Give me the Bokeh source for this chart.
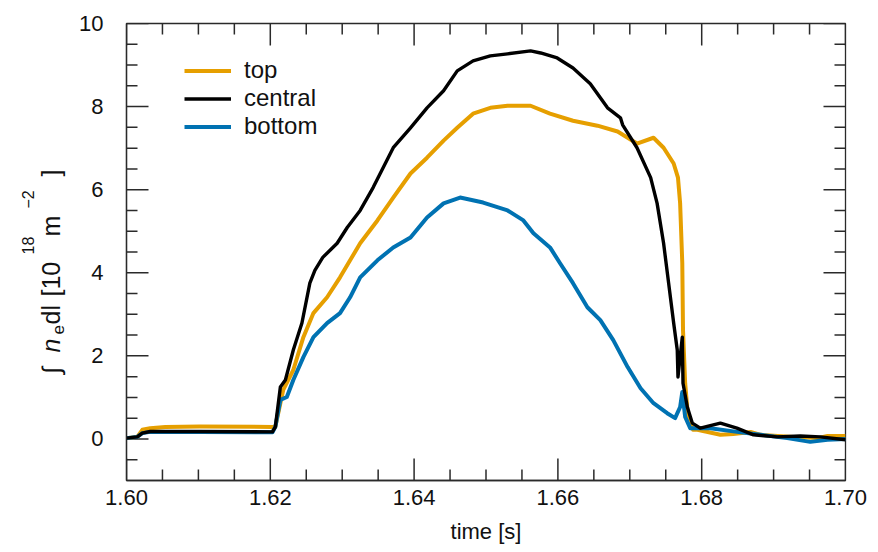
import math
from bokeh.plotting import figure
from bokeh.layouts import row
from bokeh.models import (Range1d, LinearAxis, SingleIntervalTicker, PrintfTickFormatter,
                          Legend, LegendItem, ColumnDataSource)
from bokeh.core.properties import value
from bokeh.embed import file_html
from bokeh.resources import INLINE

# ---- data ----
central_t = [1.6000, 1.6015, 1.6022, 1.6033, 1.6102, 1.6203, 1.6207, 1.6214, 1.6221, 1.6232,
             1.6244, 1.6255, 1.6262, 1.6273, 1.6293, 1.6307, 1.6325, 1.6343, 1.6371, 1.6395,
             1.6418, 1.6441, 1.6460, 1.6482, 1.6506, 1.6530, 1.6562, 1.6576, 1.6599, 1.6621,
             1.6645, 1.6669, 1.6687, 1.6690, 1.6710, 1.6729, 1.6738, 1.6747, 1.6754, 1.6761,
             1.6766, 1.6767, 1.6773, 1.6774, 1.6780, 1.6787, 1.6798, 1.6826, 1.6849, 1.6872,
             1.6905, 1.6937, 1.6965, 1.7000]
central_v = [0.02, 0.05, 0.14, 0.18, 0.18, 0.17, 0.29, 1.25, 1.42, 2.14,
             2.79, 3.75, 4.06, 4.37, 4.71, 5.09, 5.50, 6.05, 7.01, 7.49,
             7.97, 8.38, 8.86, 9.10, 9.22, 9.27, 9.34, 9.29, 9.17, 8.93,
             8.55, 7.97, 7.73, 7.56, 7.01, 6.29, 5.67, 4.71, 3.75, 2.79,
             2.14, 1.49, 2.45, 1.34, 0.77, 0.38, 0.26, 0.38, 0.26, 0.10,
             0.05, 0.07, 0.05, -0.02]

top_t = [1.6000, 1.6015, 1.6022, 1.6033, 1.6054, 1.6102, 1.6203, 1.6207, 1.6218, 1.6232,
         1.6246, 1.6260, 1.6279, 1.6297, 1.6311, 1.6325, 1.6349, 1.6371, 1.6395, 1.6418,
         1.6441, 1.6460, 1.6482, 1.6506, 1.6530, 1.6562, 1.6589, 1.6621, 1.6655, 1.6683,
         1.6710, 1.6733, 1.6747, 1.6761, 1.6767, 1.6770, 1.6773, 1.6774, 1.6777, 1.6781,
         1.6788, 1.6794, 1.6826, 1.6844, 1.6868, 1.6882, 1.6928, 1.6961, 1.6975, 1.7000]
top_v = [0.02, 0.05, 0.22, 0.26, 0.29, 0.30, 0.29, 0.29, 1.18, 1.66,
         2.45, 3.03, 3.41, 3.89, 4.30, 4.71, 5.26, 5.81, 6.39, 6.77,
         7.18, 7.49, 7.83, 7.97, 8.02, 8.02, 7.83, 7.66, 7.54, 7.40,
         7.11, 7.25, 7.01, 6.63, 6.29, 5.67, 4.23, 2.62, 1.34, 0.53,
         0.22, 0.22, 0.10, 0.12, 0.17, 0.10, 0.05, 0.02, 0.07, 0.07]

bottom_t = [1.6000, 1.6015, 1.6022, 1.6033, 1.6102, 1.6203, 1.6207, 1.6214, 1.6223, 1.6232,
            1.6246, 1.6260, 1.6279, 1.6297, 1.6311, 1.6325, 1.6349, 1.6371, 1.6395, 1.6418,
            1.6441, 1.6464, 1.6496, 1.6530, 1.6552, 1.6566, 1.6589, 1.6603, 1.6621, 1.6641,
            1.6659, 1.6677, 1.6697, 1.6715, 1.6733, 1.6752, 1.6763, 1.6770, 1.6773, 1.6777,
            1.6784, 1.6812, 1.6849, 1.6882, 1.6919, 1.6951, 1.6975, 1.7000]
bottom_v = [0.02, 0.05, 0.14, 0.17, 0.17, 0.16, 0.29, 0.94, 1.01, 1.42,
            1.97, 2.45, 2.79, 3.03, 3.41, 3.89, 4.30, 4.61, 4.85, 5.33,
            5.67, 5.81, 5.69, 5.50, 5.26, 4.95, 4.61, 4.23, 3.75, 3.17,
            2.86, 2.38, 1.73, 1.22, 0.86, 0.62, 0.50, 0.77, 1.13, 0.53,
            0.26, 0.26, 0.17, 0.10, 0.02, -0.07, -0.02, 0.00]

series_names = ["top", "central", "bottom"]
series_colors = ["#E69F00", "#000000", "#0072B2"]

# tick positions
x_major = [1.60, 1.62, 1.64, 1.66, 1.68, 1.70]
x_minor = [1.605, 1.610, 1.615, 1.625, 1.630, 1.635, 1.645, 1.650, 1.655,
           1.665, 1.670, 1.675, 1.685, 1.690, 1.695]
y_major = [0, 2, 4, 6, 8, 10]
y_minor = [-0.5, 0.5, 1.0, 1.5, 2.5, 3.0, 3.5, 4.5, 5.0, 5.5, 6.5, 7.0, 7.5, 8.5, 9.0, 9.5]
X_MIN, X_MAX, Y_MIN, Y_MAX = 1.60, 1.70, -1.0, 10.0

FONT = "Liberation Sans"
INK = "#111111"
AX = "#2a2a2a"

# layout sizes (px)
TOTAL_W, TOTAL_H = 878, 552
LW = 76                      # width of the y-title panel
BL, BR, BT, BB = 50, 33, 23, 72
PW = TOTAL_W - LW
FRAME_W = PW - BL - BR
FRAME_H = TOTAL_H - BT - BB

# ---------- main plot ----------
p = figure(width=PW, height=TOTAL_H, output_backend="svg", toolbar_location=None,
           x_range=Range1d(X_MIN, X_MAX), y_range=Range1d(Y_MIN, Y_MAX),
           x_axis_location=None, y_axis_location=None,
           min_border_left=BL, min_border_right=BR, min_border_top=BT, min_border_bottom=BB)
p.grid.visible = False
p.outline_line_color = AX
p.outline_line_width = 1.3
p.background_fill_color = "white"
p.border_fill_color = "white"

def style_axis(ax):
    ax.major_tick_in = 0
    ax.major_tick_out = 0
    ax.minor_tick_in = 0
    ax.minor_tick_out = 0
    ax.axis_line_color = AX
    ax.axis_line_width = 1.3
    ax.major_label_text_font = FONT
    ax.major_label_text_font_size = "22px"
    ax.major_label_text_color = INK
    ax.axis_label_text_font = FONT
    ax.axis_label_text_font_size = "22px"
    ax.axis_label_text_font_style = "normal"
    ax.axis_label_text_color = INK

xb = LinearAxis(ticker=SingleIntervalTicker(interval=0.02, num_minor_ticks=4),
                formatter=PrintfTickFormatter(format="%.2f"), axis_label="time [s]")
style_axis(xb)
xb.major_label_standoff = 9
xb.axis_label_standoff = 11
p.add_layout(xb, "below")

yl = LinearAxis(ticker=SingleIntervalTicker(interval=2, num_minor_ticks=4))
style_axis(yl)
yl.major_label_standoff = 23
p.add_layout(yl, "left")

# inward ticks on all four sides, drawn as one multi_line; pixel lengths converted through the frame scale
def dx(px):
    return px * (X_MAX - X_MIN) / FRAME_W

def dy(px):
    return px * (Y_MAX - Y_MIN) / FRAME_H

tick_xs, tick_ys = [], []
for ticks, L in ((x_major, 22), (x_minor, 11)):
    for t in ticks:
        tick_xs += [[t, t], [t, t]]
        tick_ys += [[Y_MIN, Y_MIN + dy(L)], [Y_MAX, Y_MAX - dy(L)]]
for ticks, L in ((y_major, 22), (y_minor, 11)):
    for v in ticks:
        tick_xs += [[X_MIN, X_MIN + dx(L)], [X_MAX, X_MAX - dx(L)]]
        tick_ys += [[v, v], [v, v]]
p.multi_line(xs=tick_xs, ys=tick_ys, line_color=AX, line_width=1.5)

data = {"top": (top_t, top_v), "central": (central_t, central_v), "bottom": (bottom_t, bottom_v)}
renderers = {}
for name in ["top", "bottom", "central"]:
    t, v = data[name]
    color = series_colors[series_names.index(name)]
    src = ColumnDataSource(dict(t=t, v=v))
    renderers[name] = p.line("t", "v", source=src, line_color=color,
                             line_width=4.0 if name != "central" else 3.4, line_join="round")

legend = Legend(items=[LegendItem(label=n, renderers=[renderers[n]]) for n in series_names],
                location=(58, 340), orientation="vertical")
legend.border_line_color = None
legend.background_fill_alpha = 0
legend.margin = 0
legend.padding = 0
legend.spacing = 0
legend.glyph_width = 47
legend.glyph_height = 27
legend.label_height = 27
legend.label_standoff = 13
legend.label_text_font = FONT
legend.label_text_font_size = "24px"
legend.label_text_color = INK
p.add_layout(legend, "center")

# ---------- y-axis title panel (pieces rotated to read upward) ----------
lf = figure(width=LW, height=TOTAL_H, output_backend="svg", toolbar_location=None,
            x_range=Range1d(0, LW), y_range=Range1d(BB, TOTAL_H - BT),
            x_axis_location=None, y_axis_location=None,
            min_border_left=0, min_border_right=0, min_border_top=BT, min_border_bottom=BB)
lf.grid.visible = False
lf.outline_line_color = None
lf.background_fill_color = "white"
lf.border_fill_color = "white"

ylabel_text = ["\u222B", "n", "e", "dl", "[10", "18", "m", "\u22122", "]"]
ylabel_x = [50, 50, 57, 50, 50, 27, 50, 27, 50]          # baseline position (px from left)
ylabel_y = [179, 200, 218, 228, 256, 298, 316, 344, 376]  # start position (px from bottom)
ylabel_size = ["25px", "25px", "17px", "25px", "25px", "16px", "25px", "16px", "25px"]
ylabel_style = ["normal", "italic", "normal", "normal", "normal", "normal", "normal", "normal", "normal"]
for txt, lx, ly, sz, st in zip(ylabel_text, ylabel_x, ylabel_y, ylabel_size, ylabel_style):
    lf.text(x=[lx], y=[ly], text=[txt], angle=math.pi / 2,
            text_font=value(FONT), text_font_size=sz, text_font_style=st,
            text_color=INK, text_align="left", text_baseline="alphabetic")

layout = row(lf, p, spacing=0)
open("out.html", "w").write(file_html(layout, INLINE))
